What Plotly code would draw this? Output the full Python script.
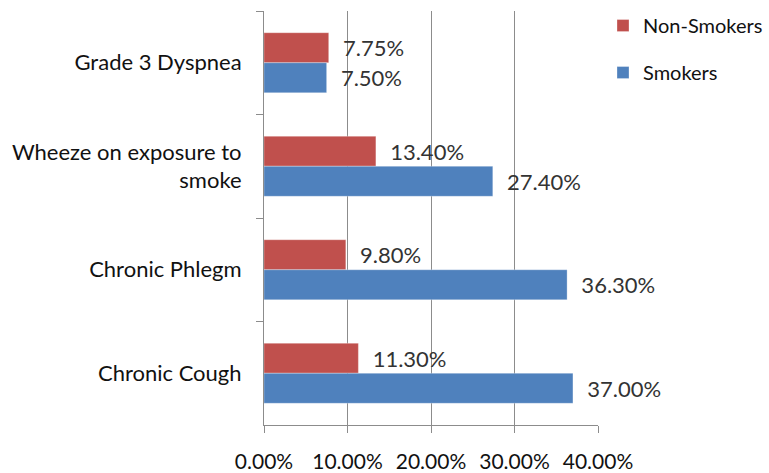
import plotly.graph_objects as go

categories = ["Grade 3 Dyspnea", "Wheeze on exposure to<br>smoke", "Chronic Phlegm", "Chronic Cough"]
non_smokers = [7.75, 13.40, 9.80, 11.30]
smokers = [7.50, 27.40, 36.30, 37.00]
x_ticks = [0, 10, 20, 30, 40]
x_tick_labels = ["0.00%", "10.00%", "20.00%", "30.00%", "40.00%"]

FONT = "Lato"
RED = "#C0504D"
BLUE = "#4F81BD"
GRID = "#8C8C8C"

fig = go.Figure()
for name, vals, col, grp in [("Non-Smokers", non_smokers, RED, "a"), ("Smokers", smokers, BLUE, "b")]:
    fig.add_trace(go.Bar(
        y=categories, x=vals, name=name, orientation="h",
        marker=dict(color=col, line=dict(color="rgba(255,255,255,0.6)", width=0.5)),
        text=["  %.2f%%" % v for v in vals], textposition="outside",
        textfont=dict(family=FONT, size=22, color="#333333"),
        cliponaxis=False, legendgroup=grp,
    ))

fig.update_layout(
    width=769, height=473,
    margin=dict(l=264, r=171, t=11, b=48, autoexpand=False),
    plot_bgcolor="white", paper_bgcolor="white",
    barmode="group", bargap=0.42, bargroupgap=0,
    font=dict(family=FONT, size=22, color="#111111"),
    legend=dict(x=1.015, y=1.012, xanchor="left", yanchor="top",
                traceorder="grouped", tracegroupgap=18,
                font=dict(family=FONT, size=20, color="#111111")),
)
fig.update_xaxes(
    range=[0, 40], tickvals=x_ticks, ticktext=x_tick_labels,
    showgrid=True, gridcolor=GRID, gridwidth=1, zeroline=False,
    showline=True, linecolor=GRID, linewidth=1, automargin=False,
    ticks="outside", ticklen=7, tickcolor=GRID, ticklabelstandoff=11,
    tickfont=dict(family=FONT, size=21, color="#111111"),
)
fig.update_yaxes(
    autorange="reversed", showline=True, linecolor=GRID, linewidth=1,
    ticks="outside", ticklen=7, tickcolor=GRID, tickson="boundaries",
    showgrid=False, ticklabelstandoff=17, automargin=False,
    tickfont=dict(family=FONT, size=22, color="#111111"),
)

fig.write_html("out.html", config={"displayModeBar": False},
               post_script="document.body.style.margin='0';document.body.style.overflow='hidden';")
